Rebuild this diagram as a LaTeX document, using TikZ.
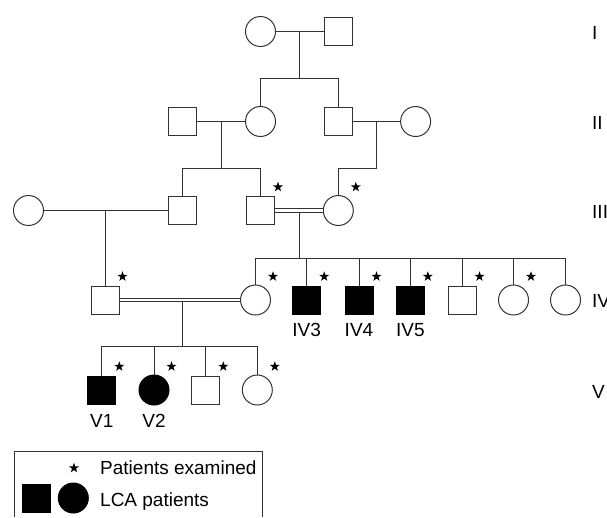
\documentclass[tikz,border=0pt]{standalone}
\usepackage{fontspec}
\setmainfont{Liberation Sans}
\usetikzlibrary{shapes.geometric}
\begin{document}
\begin{tikzpicture}[x=1pt,y=-1pt,
  ln/.style={draw=black!80, line width=1pt},
  fem/.style={circle, draw=black!80, line width=1pt, minimum size=30pt, inner sep=0pt},
  mal/.style={rectangle, draw=black!80, line width=1pt, minimum size=28pt, inner sep=0pt},
  aff/.style={fill=black, draw=black},
  ex/.style={star, star points=5, star point ratio=2.5, fill=black, inner sep=0pt, minimum size=10.5pt},
  lab/.style={font=\fontsize{19}{19}\selectfont, anchor=base, inner sep=0pt},
  gen/.style={font=\fontsize{19}{19}\selectfont, anchor=base west, inner sep=0pt},
  dbl/.style={draw=black!80, line width=0.9pt, double=white, double distance=2.6pt}
]
\useasboundingbox (0,0) rectangle (607,517);

% Generation I
\node[fem] (cI1) at (260.5,31.5) {};
\node[mal] (sI2) at (338,31.5) {};
% Generation II
\node[mal] (sII1) at (182.5,121.5) {};
\node[fem] (cII2) at (260.5,121.5) {};
\node[mal] (sII3) at (338,121.5) {};
\node[fem] (cII4) at (415.6,121.5) {};
% Generation III
\node[fem] (cIII1) at (28.5,210.5) {};
\node[mal] (sIII2) at (182.5,210.5) {};
\node[mal] (sIII3) at (260.5,210.5) {};
\node[fem] (cIII4) at (338.3,210.5) {};
% Generation IV
\node[mal] (sIV1) at (105,300) {};
\node[fem] (cIV2) at (255.5,300) {};
\node[mal,aff] (sIV3) at (306.7,300) {};
\node[mal,aff] (sIV4) at (359,300) {};
\node[mal,aff] (sIV5) at (410.3,300) {};
\node[mal] (sIV6) at (462,300) {};
\node[fem] (cIV7) at (513.5,300) {};
\node[fem] (cIV8) at (565.5,300) {};
% Generation V
\node[mal,aff] (sV1) at (101.8,390) {};
\node[fem,aff] (cV2) at (154,390) {};
\node[mal] (sV3) at (205.8,390) {};
\node[fem] (cV4) at (257.3,390) {};

% Connectors I
\draw[ln] (cI1) -- (sI2);
\coordinate (jI) at (299,31.5);
\coordinate (sbI) at (299,78.3);
\draw[ln] (jI) -- (sbI);
\draw[ln] (cII2.north) |- (sbI) -| (sII3.north);
% Connectors II
\draw[ln] (sII1) -- (cII2);
\draw[ln] (sII3) -- (cII4);
\coordinate (jII1) at (221.4,121.5);
\coordinate (sbII1) at (221.4,168.3);
\draw[ln] (jII1) -- (sbII1);
\draw[ln] (sIII2.north) |- (sbII1) -| (sIII3.north);
\coordinate (jII2) at (376.7,121.5);
\coordinate (kII2) at (376.7,168.3);
\draw[ln] (jII2) -- (kII2) -| (cIII4.north);
% Connectors III
\draw[ln] (cIII1) -- (sIII2);
\coordinate (jIII1) at (105,210.5);
\draw[ln] (jIII1) -- (sIV1.north);
\draw[dbl] (sIII3) -- (cIII4);
\coordinate (jIII2) at (299.3,212);
\coordinate (sbIV) at (299.3,258.3);
\draw[ln] (jIII2) -- (sbIV);
\draw[ln] (cIV2.north) |- (sbIV) -| (cIV8.north);
\foreach \n in {sIV3,sIV4,sIV5,sIV6,cIV7}
  \draw[ln] (\n.north) -- (\n.north |- sbIV);
% Connectors IV
\draw[dbl] (sIV1) -- (cIV2);
\coordinate (jIV) at (182.7,301.5);
\coordinate (sbV) at (182.7,346.7);
\draw[ln] (jIV) -- (sbV);
\draw[ln] (sV1.north) |- (sbV) -| (cV4.north);
\foreach \n in {cV2,sV3}
  \draw[ln] (\n.north) -- (\n.north |- sbV);

% Examined stars
\foreach \n in {sIII3,cIII4,sIV1,cIV2,sIV3,sIV4,sIV5,sIV6,cIV7,sV1,cV2,sV3,cV4}
  \node[ex] at ([shift={(17.5,-23.5)}]\n.center) {};

% Individual labels
\node[lab] (lIV3) at (306.7,336) {IV3};
\node[lab] (lIV4) at (359,336) {IV4};
\node[lab] (lIV5) at (410.3,336) {IV5};
\node[lab] (lV1) at (101.8,427) {V1};
\node[lab] (lV2) at (154,427) {V2};

% Generation labels
\node[gen] (gI) at (592,39) {I};
\node[gen] (gII) at (592,129) {II};
\node[gen] (gIII) at (592,218) {III};
\node[gen] (gIV) at (592,307) {IV};
\node[gen] (gV) at (592,398) {V};

% Legend
\draw[ln] (14.5,517) -- (14.5,451) -- (262,451) -- (262,517);
\node[ex] (lstar) at (74,468) {};
\node[gen] (ltxt1) at (100,474) {Patients examined};
\node[mal,aff] (lsq) at (36.6,498.5) {};
\node[fem,aff] (lci) at (73.3,498) {};
\node[gen] (ltxt2) at (100,506) {LCA patients};
\end{tikzpicture}
\end{document}
